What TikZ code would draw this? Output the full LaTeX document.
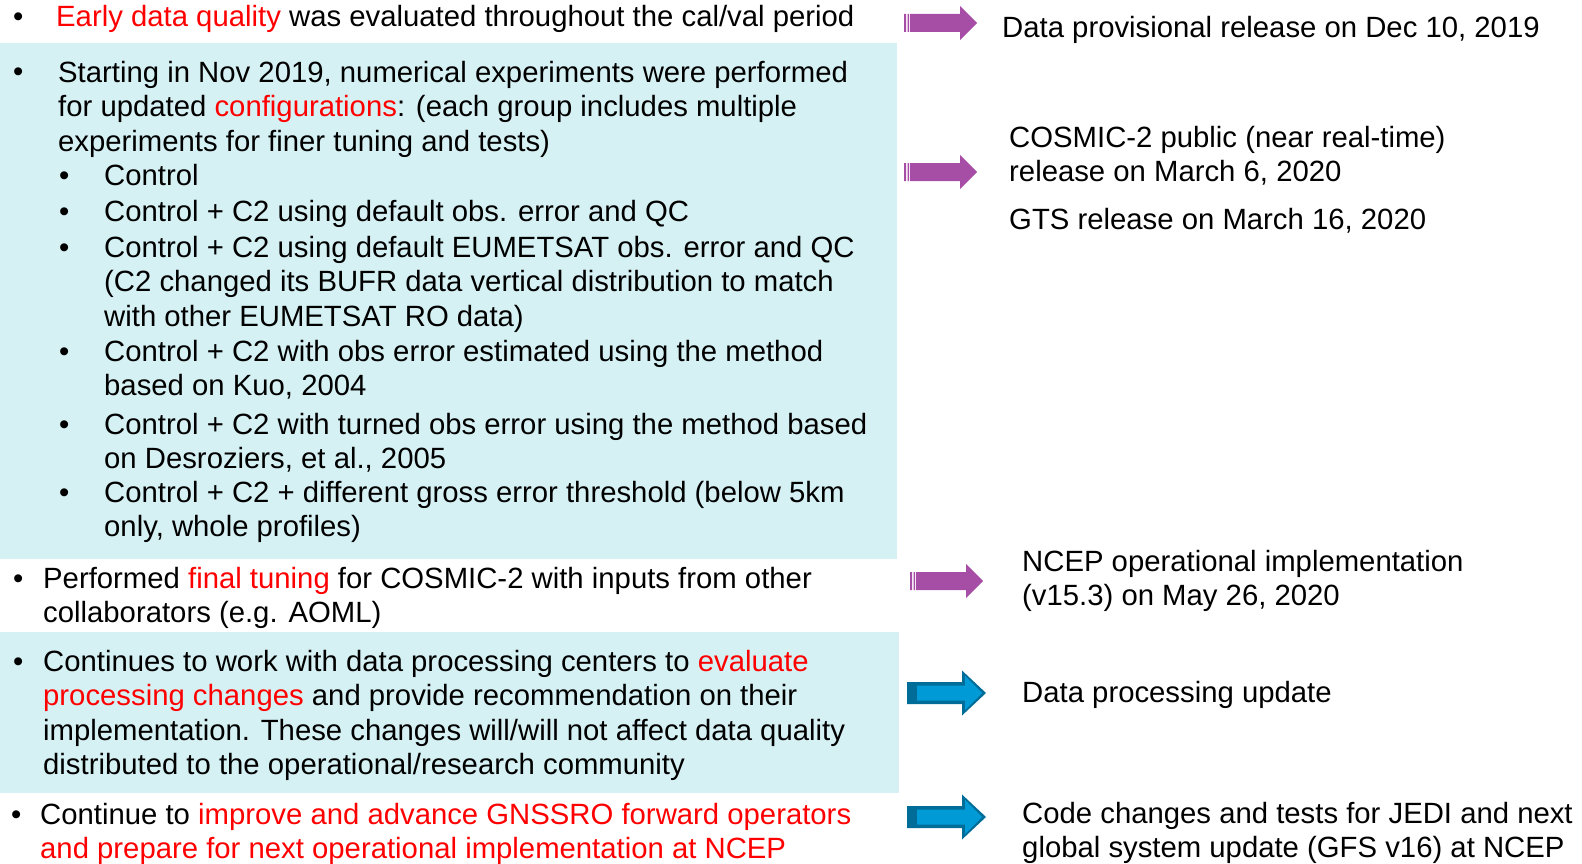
\documentclass[tikz,border=0pt]{standalone}
\usepackage{fontspec}
\setmainfont{Liberation Sans}
\definecolor{bandcyan}{RGB}{213,241,244}
\definecolor{hlred}{RGB}{255,0,0}
\definecolor{arrowpurple}{RGB}{166,77,166}
\definecolor{arrowblue}{RGB}{0,155,215}
\definecolor{arrowdark}{RGB}{0,108,152}
\newcommand{\hl}[1]{\textcolor{hlred}{#1}}

\tikzset{
  txt/.style={anchor=base west, align=left, inner sep=0pt,
    font=\fontsize{29.3}{34.5}\selectfont},
  band/.style={fill=bandcyan},
  pics/stripedarrow/.style={code={
    \fill[arrowpurple] (0,-9) rectangle (2,9) (3.5,-9) rectangle (5,9)
      (6,-9) -- (56,-9) -- (56,-17) -- (73,0) -- (56,17) -- (56,9) -- (6,9) -- cycle;}},
  pics/blockarrow/.style={code={
    \fill[arrowdark] (0,-11) -- (55,-11) -- (55,-22.5) -- (79,0)
      -- (55,22.5) -- (55,11) -- (0,11) -- cycle;
    \fill[arrowblue] (10,-7.5) -- (58,-7.5) -- (58,-17) -- (75,0)
      -- (58,17) -- (58,7.5) -- (10,7.5) -- cycle;}}
}

\begin{document}
\begin{tikzpicture}[x=1pt, y=-1pt]
\useasboundingbox (0,0) rectangle (1582,864);
\fill[band] (0,43) rectangle (897,559);
\fill[band] (0,632) rectangle (899,793);

% left column (multi-line texts sit on the baseline of their last line)
\node[txt] (dot1) at (13,27) {\textbullet};
\node[txt] (early) at (56,27) {\hl{Early data quality} was evaluated throughout the cal/val period};
\node[txt] (dot2) at (13,82) {\textbullet};
\node[txt] (start) at (58,151) {Starting in Nov 2019, numerical experiments were performed\\
  for updated \hl{configurations}: (each group includes multiple\\
  experiments for finer tuning and tests)};
\node[txt] (sub1) at (59,185) {\textbullet};
\node[txt] (ctrl) at (104,185) {Control};
\node[txt] (sub2) at (59,221) {\textbullet};
\node[txt] (dflt) at (104,221) {Control + C2 using default obs. error and QC};
\node[txt] (sub3) at (59,257) {\textbullet};
\node[txt] (eumet) at (104,326) {Control + C2 using default EUMETSAT obs. error and QC\\
  (C2 changed its BUFR data vertical distribution to match\\
  with other EUMETSAT RO data)};
\node[txt] (sub4) at (59,361) {\textbullet};
\node[txt] (kuo) at (104,395.5) {Control + C2 with obs error estimated using the method\\
  based on Kuo, 2004};
\node[txt] (sub5) at (59,434) {\textbullet};
\node[txt] (desr) at (104,468.5) {Control + C2 with turned obs error using the method based\\
  on Desroziers, et al., 2005};
\node[txt] (sub6) at (59,502) {\textbullet};
\node[txt] (gross) at (104,536.5) {Control + C2 + different gross error threshold (below 5km\\
  only, whole profiles)};
\node[txt] (dot3) at (13,588) {\textbullet};
\node[txt] (final) at (43,622.5) {Performed \hl{final tuning} for COSMIC-2 with inputs from other\\
  collaborators (e.g. AOML)};
\node[txt] (dot4) at (13,671) {\textbullet};
\node[txt] (proc) at (43,774.5) {Continues to work with data processing centers to \hl{evaluate}\\
  \hl{processing changes} and provide recommendation on their\\
  implementation. These changes will/will not affect data quality\\
  distributed to the operational/research community};
\node[txt] (dot5) at (11,824) {\textbullet};
\node[txt] (fwd) at (40,858.5) {Continue to \hl{improve and advance GNSSRO forward operators}\\
  \hl{and prepare for next operational implementation at NCEP}};

% arrows
\pic at (904,23) {stripedarrow};
\pic at (904,172) {stripedarrow};
\pic at (910,581) {stripedarrow};
\pic at (907,693) {blockarrow};
\pic at (907,817) {blockarrow};

% right column
\node[txt] (prov) at (1002,38) {Data provisional release on Dec 10, 2019};
\node[txt] (public) at (1009,181.5) {COSMIC-2 public (near real-time)\\
  release on March 6, 2020};
\node[txt] (gts) at (1009,229) {GTS release on March 16, 2020};
\node[txt] (ncep) at (1022,605.5) {NCEP operational implementation\\
  (v15.3) on May 26, 2020};
\node[txt] (update) at (1022,702) {Data processing update};
\node[txt] (jedi) at (1022,857.5) {Code changes and tests for JEDI and next\\
  global system update (GFS v16) at NCEP};
\end{tikzpicture}
\end{document}
